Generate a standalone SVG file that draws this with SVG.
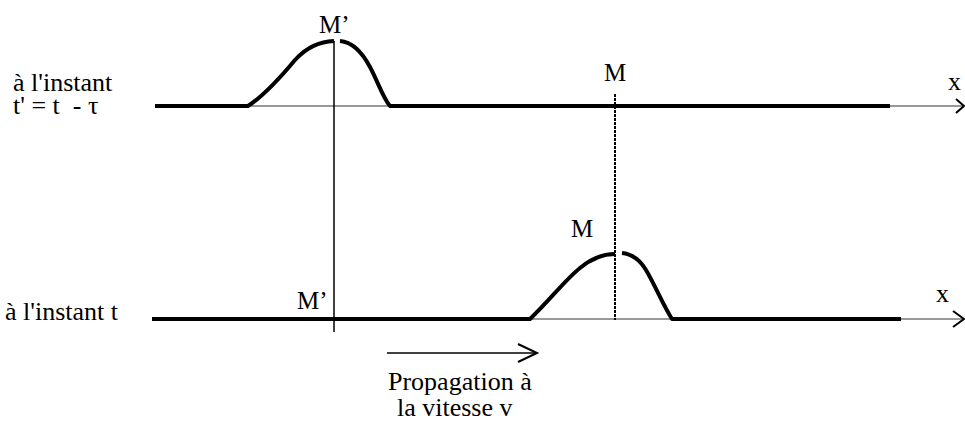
<svg xmlns="http://www.w3.org/2000/svg" width="965" height="421" viewBox="0 0 965 421">
<style>
text{font-family:'Liberation Serif','DejaVu Serif','Times New Roman',serif;fill:#000}
.lbl{font-size:26px}
.ml{font-size:25px}
.axis{stroke:#777;stroke-width:1.5;fill:none}
.wave{stroke:#000;stroke-width:4;fill:none;stroke-linejoin:round}
.thin{stroke:#000;stroke-width:1.5;fill:none}
.head{stroke:#000;stroke-width:2;fill:none;stroke-linejoin:miter}
</style>
<rect width="965" height="421" fill="#fff"/>
<g id="labels">
<text class="lbl" x="13" y="91">à l'instant</text>
<text class="lbl" x="13" y="114" xml:space="preserve">t' = t  - τ</text>
<text class="lbl" x="5" y="320">à l'instant t</text>
<text class="lbl" x="388" y="390">Propagation à</text>
<text class="lbl" x="397" y="416">la vitesse v</text>
</g>
<g id="axis-top">
<line class="axis" x1="155" y1="106" x2="963" y2="106"/>
<polyline class="head" points="956,99 964,106 956,113"/>
<text class="lbl" x="948" y="90">x</text>
</g>
<g id="axis-bottom">
<line class="axis" x1="152" y1="319" x2="963" y2="319"/>
<polyline class="head" points="953,311 964,319 953,327"/>
<text class="lbl" x="936" y="302">x</text>
</g>
<g id="wave-top">
<path class="wave" d="M155,106 L248,106 C265,95 280,78 295,60 C308,46 320,42 334,41"/>
<path class="wave" d="M340,41 C352,42 362,52 370,67 C378,82 383,98 390,106 L890,106"/>
</g>
<g id="wave-bottom">
<path class="wave" d="M152,319 L530,319 C550,300 565,280 580,268 C592,258 603,254 615,254"/>
<path class="wave" d="M622,253 C632,254 640,260 646,270 C655,285 663,305 672,319 L901,319"/>
</g>
<g id="point-Mprime">
<line class="thin" x1="334" y1="41" x2="334" y2="332"/>
<text class="ml" x="319" y="33">M’</text>
<text class="ml" x="297" y="309">M’</text>
</g>
<g id="point-M">
<line x1="615" y1="94" x2="615" y2="320" stroke="#000" stroke-width="2" stroke-dasharray="3 1"/>
<text class="ml" x="604" y="81">M</text>
<text class="ml" x="571" y="237">M</text>
</g>
<g id="connectors">
<line class="thin" x1="387" y1="353" x2="536" y2="353"/>
<polyline class="head" points="518,344 537,353 518,362"/>
</g>
</svg>
